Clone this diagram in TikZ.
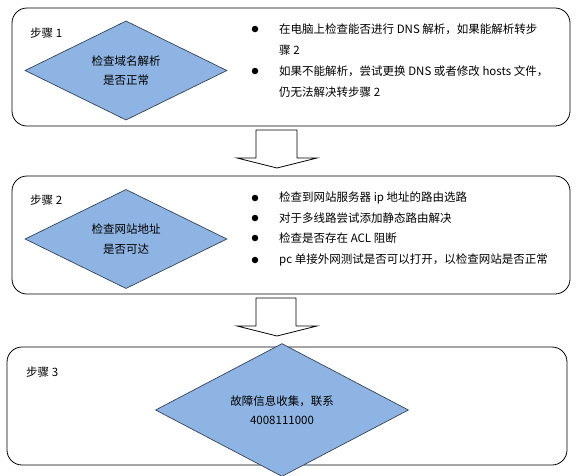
\documentclass[tikz,border=0pt]{standalone}
\usepackage{fontspec}
\setmainfont{Noto Sans CJK SC}
\usetikzlibrary{shapes.geometric}
\definecolor{decfill}{HTML}{8EB4E3}
\definecolor{decline}{HTML}{33445C}
\tikzset{
  stepbox/.style={draw=black, line width=0.8pt, rounded corners=15pt},
  decision/.style={diamond, draw=decline, fill=decfill, line width=0.7pt, inner sep=0pt,
    align=center, font=\fontsize{11.5}{19.5}\selectfont},
  steplabel/.style={anchor=west, inner sep=0pt, font=\fontsize{11.5}{14}\selectfont},
  dot/.style={circle, fill=black, inner sep=0pt, minimum size=6.5pt},
  itemtext/.style={anchor=west, inner sep=0pt, align=left, font=\fontsize{11.5}{21}\selectfont},
  blockarrow/.style={draw=black, line width=0.8pt, fill=white}
}
\begin{document}
\begin{tikzpicture}[x=1pt, y=-1pt]
  \useasboundingbox (0,0) rectangle (584,475);
  % step 1
  \draw[stepbox] (12,8) rectangle (570,126);
  \node[steplabel] (lbl1) at (30,33) {步骤 1};
  \node[decision, minimum width=202pt, minimum height=97pt] (dec1) at (126,70.5)
    {检查域名解析\\是否正常};
  \node[dot] (b11) at (255,29) {};
  \node[itemtext] (t11) at (279,39.5) {在电脑上检查能否进行 DNS 解析，如果能解析转步\\骤 2};
  \node[dot] (b12) at (255,71) {};
  \node[itemtext] (t12) at (279,81.5) {如果不能解析，尝试更换 DNS 或者修改 hosts 文件，\\仍无法解决转步骤 2};
  % arrow 1
  \draw[blockarrow] (256,130) -- (297,130) -- (297,158) -- (317,158) -- (277,168)
    -- (237,158) -- (256,158) -- cycle;
  % step 2
  \draw[stepbox] (12,176) rectangle (570,294);
  \node[steplabel] (lbl2) at (30,200) {步骤 2};
  \node[decision, minimum width=202pt, minimum height=96pt] (dec2) at (126,239)
    {检查网站地址\\是否可达};
  \foreach \y/\txt [count=\i] in {198/检查到网站服务器 ip 地址的路由选路,
      218/对于多线路尝试添加静态路由解决,
      238/检查是否存在 ACL 阻断,
      260/pc 单接外网测试是否可以打开，以检查网站是否正常} {
    \node[dot] (b2\i) at (255,\y) {};
    \node[itemtext] (t2\i) at (279,\y) {\txt};
  }
  % arrow 2
  \draw[blockarrow] (256,298) -- (296,298) -- (296,326) -- (317,326) -- (277,336)
    -- (237,326) -- (256,326) -- cycle;
  % step 3
  \draw[stepbox] (7,347) rectangle (567,465);
  \node[steplabel] (lbl3) at (26,372) {步骤 3};
  \node[decision, minimum width=253pt, minimum height=96pt] (dec3) at (282,410)
    {故障信息收集，联系\\4008111000};
\end{tikzpicture}
\end{document}
